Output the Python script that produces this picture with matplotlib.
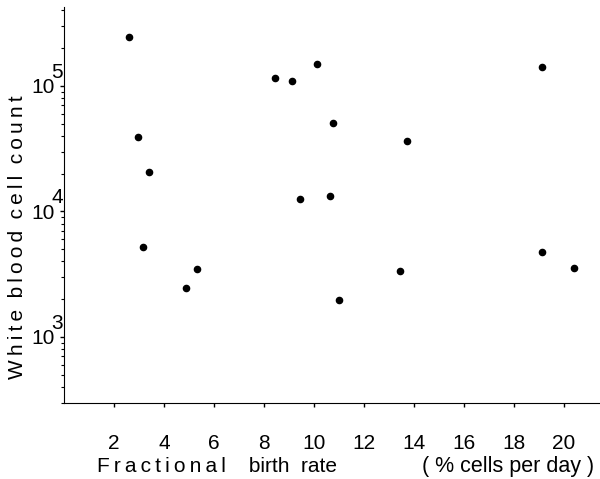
import numpy as np
import matplotlib
matplotlib.use('Agg')
import matplotlib.pyplot as plt
from matplotlib.ticker import FixedLocator, LogLocator, NullFormatter, FixedFormatter

plt.rcParams['font.family'] = ['Liberation Sans', 'DejaVu Sans']

############ data

birth_rate = [2.58, 2.94, 3.14, 3.39, 4.86, 5.31, 8.42, 9.10, 9.42,
              10.11, 10.64, 10.76, 11.00, 13.42, 13.71, 19.13, 19.12, 20.39]
wbc_count = [2.46e5, 3.93e4, 5.2e3, 2.06e4, 2.46e3, 3.48e3, 1.16e5, 1.10e5, 1.26e4,
             1.49e5, 1.34e4, 5.1e4, 1.96e3, 3.36e3, 3.66e4, 1.41e5, 4.73e3, 3.56e3]

x_ticks = [2, 4, 6, 8, 10, 12, 14, 16, 18, 20]
y_ticks = [1e3, 1e4, 1e5]
y_exponents = ['3', '4', '5']


def spaced(s):
	# the original lettering is widely tracked
	return '\u2009'.join(s)


fig = plt.figure(figsize=(6, 4.79), dpi=100)
ax = fig.add_axes([0.107, 0.1587, 0.893, 0.8267])

ax.scatter(birth_rate, wbc_count, s=20, color='black', zorder=3)

ax.set_yscale('log')
ax.set_xlim(0, 21.44)
ax.set_ylim(298, 4.26e5)

ax.spines['top'].set_visible(False)
ax.spines['right'].set_visible(False)

ax.xaxis.set_major_locator(FixedLocator(x_ticks))
ax.yaxis.set_major_locator(FixedLocator(y_ticks))
ax.yaxis.set_major_formatter(FixedFormatter(['10'] * len(y_ticks)))
ax.yaxis.set_minor_locator(LogLocator(base=10, subs=np.arange(2, 10)))
ax.yaxis.set_minor_formatter(NullFormatter())

ax.tick_params(axis='x', direction='out', length=3, width=1, pad=19, labelsize=15)
ax.tick_params(axis='y', which='major', direction='out', length=3, width=1, pad=4, labelsize=15)
ax.tick_params(axis='y', which='minor', direction='out', length=2.5, width=0.8)

# exponents drawn full size, raised beside the "10"
for v, e in zip(y_ticks, y_exponents):
	ax.annotate(e, xy=(0, v), xycoords=('axes fraction', 'data'),
	            xytext=(-1, 10), textcoords='offset points',
	            ha='right', va='center', fontsize=15)

fig.text(0.03, 0.505, spaced('White blood cell count').replace('\u2009 \u2009', '  '),
         rotation=90, ha='center', va='center', fontsize=15)

fig.text(0.162, 0.015, spaced('Fractional') + '    birth  rate', fontsize=15)
fig.text(0.703, 0.015, '( % cells per day )', fontsize=15.5)

plt.savefig('out.png', dpi=100)
